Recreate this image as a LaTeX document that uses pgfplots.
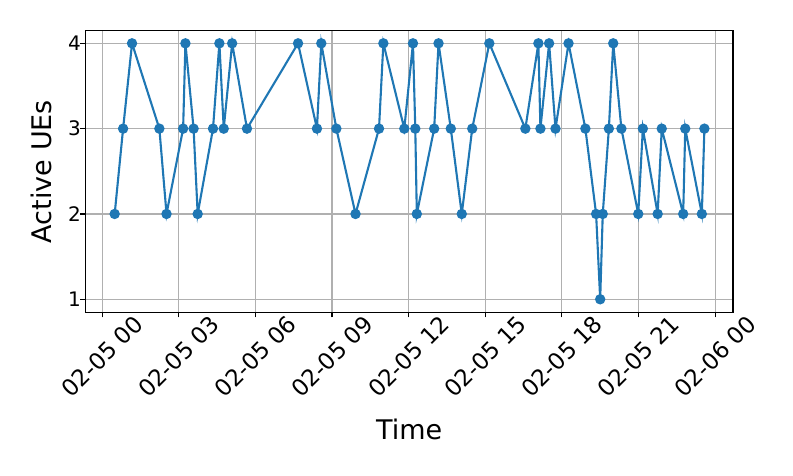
\documentclass[border=0pt]{standalone}
\usepackage{fontspec}
\setmainfont{DejaVu Sans}
\usepackage{pgfplots}
\pgfplotsset{compat=1.18}
\definecolor{mplblue}{HTML}{1F77B4}
\definecolor{mplgrid}{HTML}{B0B0B0}

\begin{document}
\begin{tikzpicture}
\begin{axis}[
  scale only axis,
  width=647.7bp,height=281.8bp,
  xmin=-0.66,xmax=24.70,ymin=0.845,ymax=4.148,
  xtick={0,3,6,9,12,15,18,21,24},
  xticklabels={02-05 00,02-05 03,02-05 06,02-05 09,02-05 12,02-05 15,02-05 18,02-05 21,02-06 00},
  ytick={1,2,3,4},
  xtick pos=left,ytick pos=left,
  /pgf/number format/assume math mode=true,
  tick align=outside,
  major tick length=4.9bp,
  tick style={black,line width=1.1bp},
  axis line style={black,line width=1.1bp},
  grid=major,
  grid style={mplgrid,line width=1.1bp},
  xticklabel style={font=\fontsize{23bp}{25bp}\selectfont,yshift=-39bp,rotate=45,anchor=center},
  yticklabel style={font=\fontsize{20bp}{23bp}\selectfont,anchor=east,xshift=4bp},
  xlabel={Time},ylabel={Active UEs},
  label style={font=\fontsize{27bp}{30bp}\selectfont},
  xlabel style={at={(axis description cs:0.5,-0.4524)},anchor=base},
  ylabel style={at={(axis description cs:-0.0673,0.5)},anchor=center},
]
\addplot[mplblue,line width=2.1bp,mark=*,mark size=4.1bp,mark options={solid,fill=mplblue,draw=mplblue}] coordinates {
(0.49,2) (0.82,3) (1.17,4) (2.24,3) (2.52,2) (3.17,3) (3.26,4) (3.58,3)
(3.74,2) (4.34,3) (4.59,4) (4.76,3) (5.09,4) (5.67,3) (7.67,4) (8.41,3)
(8.58,4) (9.17,3) (9.92,2) (10.84,3) (11.01,4) (11.83,3) (12.17,4) (12.26,3)
(12.32,2) (13.00,3) (13.17,4) (13.65,3) (14.08,2) (14.49,3) (15.16,4) (16.57,3)
(17.08,4) (17.16,3) (17.50,4) (17.75,3) (18.26,4) (18.92,3) (19.34,2) (19.50,1)
(19.60,2) (19.84,3) (20.01,4) (20.33,3) (20.99,2) (21.17,3) (21.75,2) (21.91,3)
(22.75,2) (22.83,3) (23.48,2) (23.58,3)
};
\end{axis}
\pgfresetboundingbox
\path (current axis.south west) ++(-85.3bp,-163.5bp) coordinate (bl);
\path (current axis.north east) ++(60bp,30.7bp) coordinate (tr);
\useasboundingbox (bl) rectangle (tr);
\end{tikzpicture}
\end{document}
